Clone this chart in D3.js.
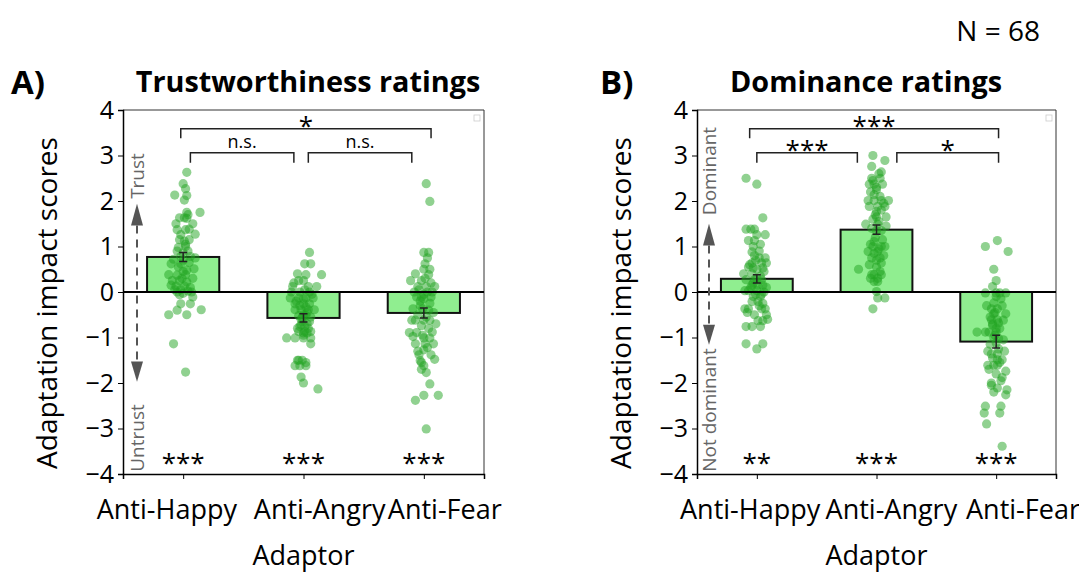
<!DOCTYPE html>
<html><head><meta charset="utf-8">
<style>
  body { margin: 0; background: #fff; }
  svg { display: block; font-family: "Open Sans", sans-serif; }
</style>
</head><body>
<div id="chart"></div>
<script src="https://cdnjs.cloudflare.com/ajax/libs/d3/7.8.5/d3.min.js"></script>
<script>
// categories and tick labels
const adaptors = ["Anti-Happy", "Anti-Angry", "Anti-Fear"];
const yTicks = [-4, -3, -2, -1, 0, 1, 2, 3, 4];

// bar means and standard errors
const trustMeans = [0.77, -0.57, -0.46];
const trustSem = [0.10, 0.09, 0.11];
const domMeans = [0.29, 1.37, -1.09];
const domSem = [0.09, 0.10, 0.14];

// significance labels
const trustVsZero = ["***", "***", "***"];
const domVsZero = ["**", "***", "***"];
const trustPairs = [
  { from: 0, to: 2, fromOff: -0.02, toOff: 0.06, level: 3.59, drop: 3.38, label: "*" },
  { from: 0, to: 1, fromOff: 0.06, toOff: -0.08, level: 3.06, drop: 2.84, label: "n.s." },
  { from: 1, to: 2, fromOff: 0.04, toOff: -0.10, level: 3.06, drop: 2.84, label: "n.s." }
];
const domPairs = [
  { from: 0, to: 2, fromOff: -0.06, toOff: 0.02, level: 3.59, drop: 3.38, label: "***" },
  { from: 0, to: 1, fromOff: 0.00, toOff: -0.16, level: 3.06, drop: 2.84, label: "***" },
  { from: 1, to: 2, fromOff: 0.17, toOff: 0.02, level: 3.06, drop: 2.84, label: "*" }
];

// individual participant scores, [jitter, score]
const trustHappy = [[0.03,2.63],[0,2.38],[0.02,2.27],[-0.07,2.13],[0.03,2.12],[0.01,2.02],[0.14,1.75],[0.03,1.75],[-0.03,1.63],[0.01,1.63],[0.08,1.5],[0.03,1.62],[0.05,1.38],[-0.05,1.37],[0.02,1.37],[0.1,1.27],[-0.02,1.26],[-0.03,1.15],[0.05,1.15],[0.01,1.12],[0.02,1.0],[-0.04,0.98],[-0.05,0.9],[0.04,0.9],[0.0,0.86],[0.06,0.78],[-0.02,0.78],[-0.08,0.72],[-0.1,0.62],[-0.02,0.62],[0.09,0.51],[0.03,0.48],[-0.12,0.38],[-0.05,0.37],[0.02,0.38],[-0.03,0.25],[-0.09,0.25],[0.03,0.22],[-0.06,0.13],[0.01,0.13],[0.06,0.1],[-0.02,0.05],[0.04,0.02],[-0.05,0.0],[0.0,-0.03],[0.08,-0.11],[-0.03,-0.06],[0.06,-0.26],[-0.02,-0.26],[0.15,-0.39],[-0.05,-0.4],[-0.12,-0.5],[0.03,-0.5],[-0.08,-1.14],[0.02,-1.76],[0.0,0.7],[0.05,0.65],[-0.04,0.55],[0.08,0.3],[0.0,0.45],[-0.07,0.05],[0.1,0.75],[0.02,1.05],[-0.06,1.5],[0.04,1.7],[-0.01,0.3],[0.07,0.0],[-0.1,0.15]];
const trustAngry = [[0.05,0.87],[0.01,0.62],[0.06,0.62],[0.02,0.38],[0.15,0.38],[-0.04,0.25],[0.0,0.25],[-0.09,0.12],[0.04,0.12],[0.11,0.12],[-0.1,0.0],[-0.03,0.0],[0.05,0.0],[-0.11,-0.13],[-0.04,-0.13],[0.02,-0.13],[0.08,-0.13],[-0.07,-0.26],[0.0,-0.26],[0.05,-0.26],[-0.07,-0.39],[-0.02,-0.39],[0.04,-0.39],[0.09,-0.39],[-0.04,-0.52],[0.02,-0.52],[-0.01,-0.65],[0.05,-0.65],[-0.03,-0.76],[0.01,-0.76],[-0.04,-0.87],[0.01,-0.87],[0.06,-0.87],[-0.14,-1.01],[-0.07,-1.01],[0.0,-1.01],[0.06,-1.01],[0.06,-1.14],[-0.05,-1.5],[-0.01,-1.5],[-0.07,-1.62],[-0.03,-1.62],[0.02,-1.62],[-0.02,-1.87],[0.0,-2.0],[0.12,-2.13],[0.0,-0.5],[-0.02,-0.6],[0.03,-0.7],[-0.05,-0.8],[0.0,-0.95],[0.03,-0.45],[-0.06,-0.2],[0.07,-0.05],[-0.08,0.2],[0.02,-0.33],[0.0,-0.9],[-0.01,-0.55],[0.04,-0.8],[-0.03,-0.3],[0.01,0.05],[-0.02,-0.72],[0.03,-0.9],[0.0,-0.15],[-0.05,0.4],[0.06,-0.55],[-0.04,-1.5],[0.02,-1.55]];
const trustFear = [[0.02,2.38],[0.05,1.99],[0.0,0.87],[0.04,0.87],[0.01,0.62],[0.0,0.5],[0.05,0.5],[0.04,0.38],[-0.11,0.25],[-0.02,0.25],[-0.05,0.12],[0.02,0.12],[0.09,0.12],[-0.06,-0.11],[-0.02,-0.11],[0.06,-0.11],[-0.09,-0.37],[-0.01,-0.37],[-0.1,-0.62],[-0.07,-0.62],[0.05,-0.62],[0.0,-0.62],[-0.02,-0.74],[-0.12,-0.89],[-0.06,-0.89],[0.0,-1.01],[0.05,-1.01],[-0.07,-1.14],[0.01,-1.14],[0.08,-1.14],[0.0,-1.27],[-0.04,-1.38],[0.06,-1.38],[-0.03,-1.51],[-0.02,-1.55],[0.0,-1.62],[0.02,-1.77],[0.05,-2.02],[0.0,-2.27],[0.12,-2.27],[-0.07,-2.38],[0.02,-3.01],[0.03,0.75],[-0.04,0.05],[0.07,0.0],[-0.08,0.0],[0.03,0.0],[0.0,-0.05],[-0.03,-0.2],[0.05,-0.25],[0.08,-0.45],[-0.05,-0.5],[0.02,-0.55],[0.1,-0.7],[0.04,-0.8],[-0.01,-0.95],[0.07,-0.88],[-0.09,-0.98],[0.03,-1.22],[-0.05,-1.3],[0.09,-1.48],[-0.03,-0.3],[0.01,0.3],[0.06,0.2],[-0.07,0.4],[0.0,-0.15],[0.04,-0.4],[-0.02,-1.7]];
const domHappy = [[-0.09,2.5],[0.0,2.37],[0.05,1.63],[-0.09,1.38],[-0.02,1.38],[0.0,1.26],[0.07,1.26],[-0.07,1.13],[-0.02,1.13],[-0.03,1.0],[-0.04,0.88],[0.02,0.75],[0.07,0.75],[-0.04,0.64],[0.04,0.64],[0.08,0.64],[-0.03,0.53],[0.05,0.53],[-0.11,0.4],[-0.04,0.4],[-0.09,0.27],[-0.02,0.27],[0.04,0.27],[-0.04,0.15],[0.01,0.15],[0.05,0.15],[-0.1,0.03],[-0.07,0.03],[0.0,0.03],[-0.03,-0.1],[0.03,-0.1],[-0.04,-0.21],[0.01,-0.21],[-0.1,-0.37],[-0.07,-0.37],[0.04,-0.37],[0.07,-0.37],[-0.02,-0.5],[0.08,-0.5],[0.01,-0.63],[0.05,-0.63],[-0.09,-0.76],[-0.04,-0.76],[0.03,-0.76],[-0.09,-1.14],[0.05,-1.14],[0.0,-1.25],[0.0,0.5],[0.03,0.35],[-0.05,0.1],[0.06,0.0],[-0.01,0.7],[0.02,0.9],[-0.06,0.6],[0.04,-0.05],[-0.03,0.2],[0.06,0.45],[-0.08,-0.45],[0.02,-0.3],[0.09,-0.6],[-0.05,1.38],[0.03,1.05],[-0.01,-0.05],[0.0,0.3],[-0.07,0.55],[0.05,-0.25],[-0.02,0.8],[0.08,0.1]];
const domAngry = [[-0.03,3.0],[0.07,2.89],[-0.04,2.76],[0.04,2.64],[-0.04,2.5],[0.03,2.5],[-0.06,2.37],[-0.02,2.37],[0.05,2.37],[0.0,2.25],[-0.02,2.14],[-0.07,2.01],[-0.02,2.01],[0.04,2.01],[0.1,2.01],[-0.06,1.88],[0.01,1.88],[0.07,1.88],[0.0,1.77],[0.0,1.65],[0.08,1.65],[-0.09,1.49],[0.01,1.49],[0.0,1.35],[0.04,1.35],[-0.02,1.11],[-0.03,1.0],[0.04,1.0],[0.07,1.0],[-0.07,0.89],[0.01,0.89],[-0.04,0.75],[0.03,0.75],[0.04,0.64],[-0.15,0.5],[-0.04,0.38],[-0.02,0.38],[0.04,0.38],[-0.02,0.23],[0.01,0.23],[0.0,0.01],[0.01,-0.13],[0.07,-0.13],[-0.03,-0.37],[0.0,2.3],[-0.05,2.2],[0.03,2.1],[0.06,1.95],[-0.03,1.6],[0.02,1.55],[-0.01,1.2],[0.05,1.15],[-0.05,1.05],[0.02,0.95],[-0.02,0.85],[0.06,0.8],[-0.06,0.6],[0.0,0.55],[0.03,0.45],[-0.05,0.3],[0.0,0.7],[0.04,1.8],[-0.03,2.45],[0.02,2.6],[-0.04,1.4],[0.08,1.45],[0.01,0.3],[-0.01,1.7]];
const domFear = [[0.01,1.13],[-0.09,1.0],[0.1,0.89],[-0.02,0.5],[0.0,0.25],[-0.03,0.12],[-0.09,-0.02],[0.0,-0.02],[0.03,-0.02],[0.08,-0.02],[-0.02,-0.24],[-0.04,-0.37],[0.01,-0.37],[-0.02,-0.48],[0.08,-0.48],[-0.04,-0.61],[0.01,-0.61],[0.02,-0.68],[-0.03,-0.73],[-0.16,-0.88],[-0.09,-0.88],[-0.06,-0.88],[0.0,-0.88],[-0.02,-1.0],[0.0,-1.12],[-0.04,-1.36],[0.01,-1.36],[0.01,-1.49],[0.05,-1.49],[-0.07,-1.61],[-0.02,-1.61],[0.01,-1.61],[0.08,-1.74],[0.05,-1.88],[-0.04,-2.0],[0.01,-2.11],[0.08,-2.26],[-0.09,-2.51],[0.04,-2.51],[-0.1,-2.66],[0.03,-2.66],[-0.08,-2.9],[0.05,-3.39],[0.0,-0.1],[0.05,-0.3],[-0.05,-0.55],[0.03,-0.8],[-0.01,-0.95],[0.06,-1.05],[-0.05,-1.15],[0.02,-1.25],[-0.03,-1.45],[0.07,-1.3],[-0.06,-1.7],[0.0,-1.8],[0.04,-1.95],[-0.02,-2.2],[0.09,-2.15],[-0.03,-0.7],[0.04,-0.15],[-0.07,-1.3],[0.02,-1.02],[-0.01,-0.45],[0.06,-0.62],[-0.04,-2.05],[0.0,-0.8],[0.03,-1.55],[-0.08,-0.3]];

const W = 1079, H = 572;
const svg = d3.select("#chart").append("svg").attr("width", W).attr("height", H);
svg.append("rect").attr("width", W).attr("height", H).attr("fill", "#fff");

const y = d3.scaleLinear().domain([-4, 4]).range([474, 110]);

function drawPanel(cfg) {
  const x = d3.scalePoint().domain(adaptors).range([cfg.left, cfg.right]).padding(0.5);
  const step = x.step();
  const g = svg.append("g");

  // frame (top + right)
  g.append("path")
    .attr("d", `M${cfg.left},${y(4)}H${cfg.right}V${y(-4)}`)
    .attr("fill", "none").attr("stroke", "#333").attr("stroke-width", 1);

  // empty legend box
  g.append("rect").attr("x", cfg.right - 10).attr("y", y(4) + 5).attr("width", 6).attr("height", 6)
    .attr("fill", "#fff").attr("stroke", "#ccc").attr("stroke-width", 0.8);

  // bars
  g.selectAll("rect.bar").data(cfg.means).join("rect").attr("class", "bar")
    .attr("x", (d, i) => x(adaptors[i]) - step * 0.3)
    .attr("width", step * 0.6)
    .attr("y", d => y(Math.max(0, d)))
    .attr("height", d => Math.abs(y(d) - y(0)))
    .attr("fill", "#90ee90").attr("stroke", "#111").attr("stroke-width", 2);

  // points
  cfg.points.forEach((pts, i) => {
    g.append("g").selectAll("circle").data(pts).join("circle")
      .attr("cx", d => x(adaptors[i]) + d[0] * step)
      .attr("cy", d => y(d[1]))
      .attr("r", 4.6)
      .attr("fill", "#22a322").attr("fill-opacity", 0.5);
  });

  // error bars
  cfg.means.forEach((m, i) => {
    const cx = x(adaptors[i]), lo = y(m - cfg.sem[i]), hi = y(m + cfg.sem[i]);
    g.append("path")
      .attr("d", `M${cx},${lo}V${hi}M${cx - 4},${lo}H${cx + 4}M${cx - 4},${hi}H${cx + 4}`)
      .attr("stroke", "#222").attr("stroke-width", 1.5).attr("fill", "none");
  });

  // zero line
  g.append("line").attr("x1", cfg.left).attr("x2", cfg.right)
    .attr("y1", y(0)).attr("y2", y(0)).attr("stroke", "#000").attr("stroke-width", 2);

  // axes
  const ya = g.append("g").attr("transform", `translate(${cfg.left},0)`)
    .call(d3.axisLeft(y).tickValues(yTicks).tickSize(5).tickPadding(4));
  ya.select(".domain").attr("stroke-width", 1.5);
  ya.selectAll("text").attr("font-size", 25).attr("font-family", "Open Sans").attr("fill", "#000");

  const xa = g.append("g").attr("transform", `translate(0,${y(-4)})`)
    .call(d3.axisBottom(x).tickSize(5).tickPadding(0));
  xa.select(".domain").attr("stroke-width", 1.5);
  xa.selectAll("text").attr("font-size", 27).attr("font-family", "Open Sans").attr("fill", "#000")
    .attr("dy", 0).attr("y", 45)
    .attr("x", (d, i) => cfg.labelOff[i] * step);

  // significance vs zero
  g.selectAll("text.sig0").data(cfg.vsZero).join("text").attr("class", "sig0")
    .attr("x", (d, i) => x(adaptors[i])).attr("y", y(-3.6) + 16)
    .attr("text-anchor", "middle").attr("font-size", 26).text(d => d);

  // pairwise brackets
  cfg.pairs.forEach(p => {
    const x1 = x(adaptors[p.from]) + p.fromOff * step;
    const x2 = x(adaptors[p.to]) + p.toOff * step;
    g.append("path")
      .attr("d", `M${x1},${y(p.drop)}V${y(p.level)}H${x2}V${y(p.drop)}`)
      .attr("fill", "none").attr("stroke", "#222").attr("stroke-width", 1.5);
    const star = p.label !== "n.s.";
    g.append("text").attr("x", (x1 + x2) / 2).attr("y", y(p.level) - (star ? -6 : 5))
      .attr("text-anchor", "middle").attr("font-size", star ? 26 : 18).text(p.label);
  });

  // direction annotation
  const ax = cfg.left + cfg.arrowDx;
  g.append("line").attr("x1", ax).attr("x2", ax)
    .attr("y1", y(cfg.upBase)).attr("y2", y(cfg.downBase))
    .attr("stroke", "#555").attr("stroke-width", 2).attr("stroke-dasharray", "8,6");
  g.append("path")
    .attr("d", `M${ax},${y(cfg.upTip)}L${ax - 6},${y(cfg.upBase)}H${ax + 6}Z`).attr("fill", "#555");
  g.append("path")
    .attr("d", `M${ax},${y(cfg.downTip)}L${ax - 6},${y(cfg.downBase)}H${ax + 6}Z`).attr("fill", "#555");
  g.append("text").attr("transform", `translate(${ax + 7},${cfg.topLabelY}) rotate(-90)`)
    .attr("text-anchor", "middle").attr("font-size", cfg.annoSize).attr("fill", "#666").text(cfg.topLabel);
  g.append("text").attr("transform", `translate(${ax + 7},${cfg.bottomLabelY}) rotate(-90)`)
    .attr("text-anchor", "middle").attr("font-size", cfg.annoSize).attr("fill", "#666").text(cfg.bottomLabel);

  // titles and labels
  svg.append("text").attr("x", cfg.titleX).attr("y", 92)
    .attr("text-anchor", "middle").attr("font-size", 28.8).attr("font-weight", "bold").text(cfg.title);
  svg.append("text").attr("x", cfg.letterX).attr("y", 94)
    .attr("font-size", 33).attr("font-weight", "bold").text(cfg.letter);
  svg.append("text").attr("transform", `translate(${cfg.left - 66},303) rotate(-90)`)
    .attr("text-anchor", "middle").attr("font-size", 28).text("Adaptation impact scores");
  svg.append("text").attr("x", (cfg.left + cfg.right) / 2).attr("y", 565)
    .attr("text-anchor", "middle").attr("font-size", 27).text("Adaptor");
}

drawPanel({
  left: 123, right: 484, title: "Trustworthiness ratings", titleX: 308, letter: "A)", letterX: 11,
  means: trustMeans, sem: trustSem, points: [trustHappy, trustAngry, trustFear],
  vsZero: trustVsZero, pairs: trustPairs, labelOff: [-0.14, 0.13, 0.17],
  arrowDx: 14, upTip: 1.94, upBase: 1.46, downTip: -1.97, downBase: -1.53,
  topLabel: "Trust", topLabelY: 176, bottomLabel: "Untrust", bottomLabelY: 438, annoSize: 19
});
drawPanel({
  left: 697, right: 1056, title: "Dominance ratings", titleX: 866, letter: "B)", letterX: 600,
  means: domMeans, sem: domSem, points: [domHappy, domAngry, domFear],
  vsZero: domVsZero, pairs: domPairs, labelOff: [-0.06, 0.12, 0.22],
  arrowDx: 12, upTip: 1.5, upBase: 1.02, downTip: -1.16, downBase: -0.72,
  topLabel: "Dominant", topLabelY: 171, bottomLabel: "Not dominant", bottomLabelY: 410, annoSize: 19
});

svg.append("text").attr("x", 1040).attr("y", 41).attr("text-anchor", "end")
  .attr("font-size", 28).text("N = 68");
</script>
</body></html>
